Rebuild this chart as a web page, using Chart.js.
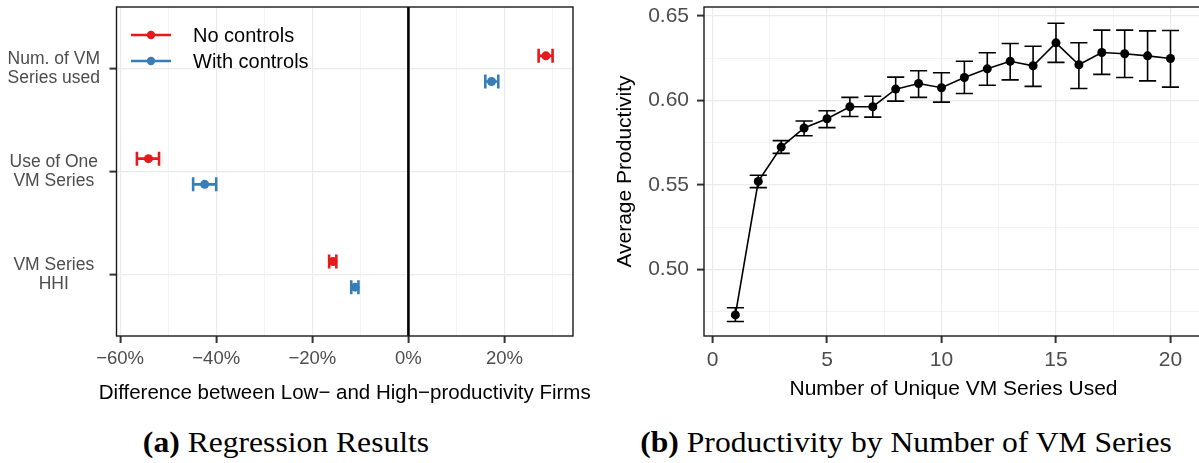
<!DOCTYPE html>
<html>
<head>
<meta charset="utf-8">
<script src="https://cdn.jsdelivr.net/npm/chart.js@4.4.1/dist/chart.umd.min.js"></script>
<style>
  body { margin: 0; background: #fff; width: 1199px; height: 463px; position: relative; overflow: hidden; }
  #leftChart { position: absolute; left: 0; top: 0; }
  #rightChart { position: absolute; left: 600px; top: 0; }
  .cap { position: absolute; top: 427px; height: 30px; line-height: 30px; text-align: center; white-space: nowrap;
         font-family: "Liberation Serif", "DejaVu Serif", serif; font-size: 29px; color: #000;
         transform: scaleX(1.09); }
</style>
</head>
<body>
<canvas id="leftChart" width="600" height="410"></canvas>
<canvas id="rightChart" width="610" height="410"></canvas>
<div class="cap" style="left:0;width:572px"><b>(a)</b> Regression Results</div>
<div class="cap" style="left:612px;width:588px"><b>(b)</b> Productivity by Number of VM Series</div>
<script>
// (a) regression coefficients, percent difference low vs high productivity
const rowLabels = [["Num. of VM", "Series used"], ["Use of One", "VM Series"], ["VM Series", "HHI"]];
const noCtrlEst = [28.6, -54.1, -15.7];
const noCtrlLo = [27.1, -56.5, -16.5];
const noCtrlHi = [30.0, -51.9, -15.0];
const withCtrlEst = [17.3, -42.4, -11.1];
const withCtrlLo = [16.0, -44.8, -11.9];
const withCtrlHi = [18.7, -40.0, -10.4];
const pctTicks = [-60, -40, -20, 0, 20];

// (b) mean productivity with confidence bands by number of series used
const seriesCount = [1, 2, 3, 4, 5, 6, 7, 8, 9, 10, 11, 12, 13, 14, 15, 16, 17, 18, 19, 20];
const avgProd = [0.4731, 0.5521, 0.5724, 0.5837, 0.5892, 0.5963, 0.5963, 0.6067, 0.6100, 0.6075,
                 0.6136, 0.6187, 0.6232, 0.6205, 0.6341, 0.6211, 0.6284, 0.6276, 0.6264, 0.6248];
const prodLo = [0.4692, 0.5484, 0.5687, 0.5791, 0.5839, 0.5905, 0.5901, 0.5996, 0.6018, 0.5990,
                0.6041, 0.6090, 0.6122, 0.6083, 0.6225, 0.6071, 0.6154, 0.6136, 0.6116, 0.6079];
const prodHi = [0.4773, 0.5557, 0.5762, 0.5878, 0.5939, 0.6018, 0.6025, 0.6138, 0.6176, 0.6164,
                0.6232, 0.6282, 0.6337, 0.6321, 0.6457, 0.6341, 0.6416, 0.6416, 0.6412, 0.6414];
const countTicks = [0, 5, 10, 15, 20];
const prodTicks = [0.50, 0.55, 0.60, 0.65];

const RED = "#E41A1C";
const BLUE = "#377EB8";
const SANS = "'Liberation Sans', Arial, sans-serif";
const TICK_GREY = "#4D4D4D";

Chart.defaults.animation = false;
Chart.defaults.font.family = SANS;

// majors plus the half-step minor lines in between, kept inside [lo, hi]
function gridTicks(majors, lo, hi) {
  const half = (majors[1] - majors[0]) / 2;
  const out = [];
  for (let k = -4; k <= majors.length * 2 + 4; k++) {
    const v = +(majors[0] + k * half).toFixed(6);
    if (v < lo || v > hi) continue;
    out.push({ value: v, major: majors.some(m => Math.abs(m - v) < 1e-9) });
  }
  return out;
}

// pin an axis box to a fixed size so the panels line up
function fixBox(size) {
  return scale => {
    if (scale.isHorizontal()) scale.height = size; else scale.width = size;
    scale.paddingTop = scale.paddingBottom = scale.paddingLeft = scale.paddingRight = 0;
  };
}

const gridStyle = {
  color: c => "#EBEBEB",
  lineWidth: c => (c.tick && c.tick.major ? 1.2 : 0.6),
  tickColor: c => (c.tick && c.tick.major ? "#333333" : "rgba(0,0,0,0)"),
  tickWidth: 2,
  tickLength: 7
};

const panelFrame = {
  id: "panelFrame",
  afterDatasetsDraw(chart) {
    const { ctx, chartArea: a } = chart;
    ctx.save();
    ctx.strokeStyle = "#1a1a1a";
    ctx.lineWidth = 1.4;
    ctx.strokeRect(a.left, a.top, a.right - a.left, a.bottom - a.top);
    ctx.restore();
  }
};

// ---------- left panel ----------
const DODGE = 0.125;
const leftBars = [
  { est: noCtrlEst, lo: noCtrlLo, hi: noCtrlHi, color: RED, shift: -DODGE, label: "No controls" },
  { est: withCtrlEst, lo: withCtrlLo, hi: withCtrlHi, color: BLUE, shift: DODGE, label: "With controls" }
];
const leftXTitle = "Difference between Low\u2212 and High\u2212productivity Firms";

const leftDecor = {
  id: "leftDecor",
  beforeDatasetsDraw(chart) {
    const { ctx, chartArea: a, scales: { x, y } } = chart;
    ctx.save();
    // reference line at zero
    const x0 = x.getPixelForValue(0);
    ctx.strokeStyle = "#000";
    ctx.lineWidth = 2.6;
    ctx.beginPath();
    ctx.moveTo(x0, a.top);
    ctx.lineTo(x0, a.bottom);
    ctx.stroke();
    // horizontal error bars with caps
    ctx.lineWidth = 2.6;
    leftBars.forEach(s => {
      ctx.strokeStyle = s.color;
      s.est.forEach((_, j) => {
        const py = y.getPixelForValue(j + 1 + s.shift);
        const x1 = x.getPixelForValue(s.lo[j]);
        const x2 = x.getPixelForValue(s.hi[j]);
        ctx.beginPath();
        ctx.moveTo(x1, py); ctx.lineTo(x2, py);
        ctx.moveTo(x1, py - 7); ctx.lineTo(x1, py + 7);
        ctx.moveTo(x2, py - 7); ctx.lineTo(x2, py + 7);
        ctx.stroke();
      });
    });
    ctx.restore();
  },
  afterDraw(chart) {
    const { ctx, chartArea: a } = chart;
    ctx.save();
    // legend inside the panel
    ctx.font = "20px " + SANS;
    ctx.textBaseline = "middle";
    leftBars.forEach((s, i) => {
      const ly = 35 + i * 26;
      ctx.strokeStyle = s.color;
      ctx.fillStyle = s.color;
      ctx.lineWidth = 2.6;
      ctx.beginPath();
      ctx.moveTo(131, ly); ctx.lineTo(171, ly);
      ctx.stroke();
      ctx.beginPath();
      ctx.arc(151, ly, 4.2, 0, Math.PI * 2);
      ctx.fill();
      ctx.fillStyle = "#000";
      ctx.fillText(s.label, 193, ly + 1);
    });
    // x title, wider than the panel so drawn here rather than by the scale
    ctx.font = "20.5px " + SANS;
    ctx.textAlign = "center";
    ctx.fillStyle = "#000";
    ctx.fillText(leftXTitle, (a.left + a.right) / 2, 393);
    ctx.restore();
  }
};

new Chart(document.getElementById("leftChart"), {
  type: "scatter",
  data: {
    datasets: leftBars.map(s => ({
      label: s.label,
      data: s.est.map((v, j) => ({ x: v, y: j + 1 + s.shift })),
      pointRadius: 4.5,
      pointBackgroundColor: s.color,
      pointBorderWidth: 0
    }))
  },
  options: {
    responsive: false,
    devicePixelRatio: 1,
    layout: { padding: { left: 0, right: 27, top: 7, bottom: 0 } },
    plugins: { legend: { display: false }, tooltip: { enabled: false } },
    scales: {
      x: {
        type: "linear", min: -60.75, max: 34.25, bounds: "data",
        afterBuildTicks: s => { s.ticks = gridTicks(pctTicks, s.min, s.max); },
        afterFit: fixBox(74),
        grid: gridStyle,
        border: { display: false },
        ticks: {
          autoSkip: false, padding: 5, color: TICK_GREY, maxRotation: 0,
          font: { size: 18.5, lineHeight: 1.2 },
          callback: (v, i, t) => (t[i].major ? String(v).replace("-", "\u2212") + "%" : "")
        }
      },
      y: {
        type: "linear", min: 0.4, max: 3.6, reverse: true, bounds: "data",
        afterBuildTicks: s => { s.ticks = rowLabels.map((_, j) => ({ value: j + 1, major: true })); },
        afterFit: fixBox(116.5),
        grid: gridStyle,
        border: { display: false },
        ticks: {
          autoSkip: false, padding: 9.5, color: TICK_GREY, crossAlign: "center",
          font: { size: 17.5, lineHeight: 1.1 },
          callback: v => rowLabels[Math.round(v) - 1] || ""
        }
      }
    }
  },
  plugins: [leftDecor, panelFrame]
});

// ---------- right panel ----------
const CAP_HALF = 0.375;

const rightBars = {
  id: "rightBars",
  beforeDatasetsDraw(chart) {
    const { ctx, scales: { x, y } } = chart;
    ctx.save();
    ctx.strokeStyle = "#000";
    ctx.lineWidth = 1.6;
    seriesCount.forEach((n, i) => {
      const px = x.getPixelForValue(n);
      const cl = x.getPixelForValue(n - CAP_HALF);
      const cr = x.getPixelForValue(n + CAP_HALF);
      const yl = y.getPixelForValue(prodLo[i]);
      const yh = y.getPixelForValue(prodHi[i]);
      ctx.beginPath();
      ctx.moveTo(px, yl); ctx.lineTo(px, yh);
      ctx.moveTo(cl, yl); ctx.lineTo(cr, yl);
      ctx.moveTo(cl, yh); ctx.lineTo(cr, yh);
      ctx.stroke();
    });
    ctx.restore();
  }
};

new Chart(document.getElementById("rightChart"), {
  type: "scatter",
  data: {
    datasets: [{
      label: "Average Productivity",
      data: seriesCount.map((n, i) => ({ x: n, y: avgProd[i] })),
      showLine: true,
      borderColor: "#000",
      borderWidth: 1.6,
      pointRadius: 4.5,
      pointBackgroundColor: "#000",
      pointBorderWidth: 0
    }]
  },
  options: {
    responsive: false,
    devicePixelRatio: 1,
    layout: { padding: { left: 0, right: 7, top: 7, bottom: 0 } },
    plugins: { legend: { display: false }, tooltip: { enabled: false } },
    scales: {
      x: {
        type: "linear", min: -0.37, max: 21.42, bounds: "data",
        afterBuildTicks: s => { s.ticks = gridTicks(countTicks, s.min, s.max); },
        afterFit: fixBox(74),
        grid: gridStyle,
        border: { display: false },
        ticks: {
          autoSkip: false, padding: 5, color: TICK_GREY, maxRotation: 0,
          font: { size: 21, lineHeight: 1.2 },
          callback: (v, i, t) => (t[i].major ? String(v) : "")
        },
        title: {
          display: true, text: "Number of Unique VM Series Used",
          color: "#000", font: { size: 21, lineHeight: 1.2 }, padding: { top: 0, bottom: 8 }
        }
      },
      y: {
        type: "linear", min: 0.4606, max: 0.6553, bounds: "data",
        afterBuildTicks: s => { s.ticks = gridTicks(prodTicks, s.min, s.max); },
        afterFit: fixBox(104),
        grid: gridStyle,
        border: { display: false },
        ticks: {
          autoSkip: false, padding: 8, color: TICK_GREY,
          font: { size: 21, lineHeight: 1.2 },
          callback: (v, i, t) => (t[i].major ? v.toFixed(2) : "")
        },
        title: {
          display: true, text: "Average Productivity",
          color: "#000", font: { size: 21, lineHeight: 1.2 }, padding: { top: 12.4, bottom: 0 }
        }
      }
    }
  },
  plugins: [rightBars, panelFrame]
});
</script>
</body>
</html>
